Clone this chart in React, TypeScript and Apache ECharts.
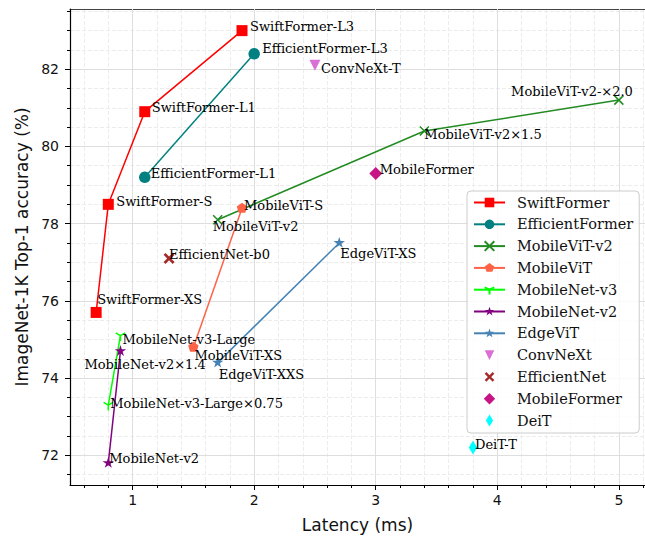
import React, { useEffect, useRef } from "react";
import * as echarts from "echarts";

// ---------- data ----------
const swiftNames = ["SwiftFormer-XS", "SwiftFormer-S", "SwiftFormer-L1", "SwiftFormer-L3"];
const swiftLatency = [0.7, 0.8, 1.1, 1.9];
const swiftAcc = [75.7, 78.5, 80.9, 83.0];

const effFormerNames = ["EfficientFormer-L1", "EfficientFormer-L3"];
const effFormerLatency = [1.1, 2.0];
const effFormerAcc = [79.2, 82.4];

const mvitV2Names = ["MobileViT-v2", "MobileViT-v2×1.5", "MobileViT-v2-×2.0"];
const mvitV2Latency = [1.7, 3.4, 5.0];
const mvitV2Acc = [78.1, 80.4, 81.2];

const mvitNames = ["MobileViT-XS", "MobileViT-S"];
const mvitLatency = [1.5, 1.9];
const mvitAcc = [74.8, 78.4];

const mnv3Names = ["MobileNet-v3-Large×0.75", "MobileNet-v3-Large"];
const mnv3Latency = [0.8, 0.9];
const mnv3Acc = [73.3, 75.1];

const mnv2Names = ["MobileNet-v2", "MobileNet-v2×1.4"];
const mnv2Latency = [0.8, 0.9];
const mnv2Acc = [71.8, 74.7];

const edgeNames = ["EdgeViT-XXS", "EdgeViT-XS"];
const edgeLatency = [1.7, 2.7];
const edgeAcc = [74.4, 77.5];

const convNames = ["ConvNeXt-T"];
const convLatency = [2.5];
const convAcc = [82.1];

const effNetNames = ["EfficientNet-b0"];
const effNetLatency = [1.3];
const effNetAcc = [77.1];

const mformerNames = ["MobileFormer"];
const mformerLatency = [3.0];
const mformerAcc = [79.3];

const deitNames = ["DeiT-T"];
const deitLatency = [3.8];
const deitAcc = [72.2];

const xMajorTicks = [1, 2, 3, 4, 5];
const xMinorTicks = [0.6, 0.8, 1.2, 1.4, 1.6, 1.8, 2.2, 2.4, 2.6, 2.8, 3.2, 3.4, 3.6, 3.8, 4.2, 4.4, 4.6, 4.8, 5.2];
const yMajorTicks = [72, 74, 76, 78, 80, 82];
const yMinorTicks = [71.5, 72.5, 73, 73.5, 74.5, 75, 75.5, 76.5, 77, 77.5, 78.5, 79, 79.5, 80.5, 81, 81.5, 82.5, 83, 83.5];

const X_MIN = 0.485;
const X_MAX = 5.215;
const Y_MIN = 71.23;
const Y_MAX = 83.56;

// ---------- label placement (styles) ----------
const labelPlacement: Record<string, [number, number, string?]> = {
  "SwiftFormer-XS": [1, -13],
  "SwiftFormer-S": [8, -3],
  "SwiftFormer-L1": [7, -4],
  "SwiftFormer-L3": [8, -4],
  "EfficientFormer-L1": [6, -4],
  "EfficientFormer-L3": [8, -5],
  "MobileViT-v2": [-5, 7],
  "MobileViT-v2×1.5": [0, 4],
  "MobileViT-v2-×2.0": [14, -9, "right"],
  "MobileViT-XS": [1, 8],
  "MobileViT-S": [2, -3],
  "MobileNet-v3-Large×0.75": [2, -2],
  "MobileNet-v3-Large": [2, 4],
  "MobileNet-v2": [1, -4],
  "MobileNet-v2×1.4": [-36, 13],
  "EdgeViT-XXS": [1, 12],
  "EdgeViT-XS": [1, 11],
  "ConvNeXt-T": [6, 3],
  "EfficientNet-b0": [0, -4],
  "MobileFormer": [4, -4],
  "DeiT-T": [2, -3],
};

// ---------- marker shapes ----------
const P = {
  x: "M-1,-1M1,1M-1,-1L1,1M1,-1L-1,1",
  pentagon: "M0,1M0,-1L0.951,-0.309L0.588,0.809L-0.588,0.809L-0.951,-0.309Z",
  star:
    "M0,1M0,-1L0.2245,-0.309L0.951,-0.309L0.363,0.118L0.588,0.809L0,0.382L-0.588,0.809L-0.363,0.118L-0.951,-0.309L-0.2245,-0.309Z",
  triDown: "M0,-1M0,0L0,1M0,0L-0.866,-0.5M0,0L0.866,-0.5",
  triangleDown: "M-1,-1L1,-1L0,1Z",
  xFilled:
    "M0,-0.35L0.65,-1L1,-0.65L0.35,0L1,0.65L0.65,1L0,0.35L-0.65,1L-1,0.65L-0.35,0L-1,-0.65L-0.65,-1Z",
  diamond: "M0,-1L1,0L0,1L-1,0Z",
  thinDiamond: "M0,-1L0.6,0L0,1L-0.6,0Z",
};
const sym = (p: string) => "path://" + p;
const padSym = (p: string, s: number) => `path://M${-s},${-s}M${s},${s}` + p;

const SERIF = "DejaVu Serif";
const SANS = "DejaVu Sans";

function pts(names: string[], xs: number[], ys: number[]) {
  return names.map((n, i) => {
    const pl = labelPlacement[n] || [6, 0];
    return {
      name: n,
      value: [xs[i], ys[i]],
      label: {
        show: true,
        formatter: n,
        position: "inside",
        align: pl[2] || "left",
        verticalAlign: "middle",
        offset: [pl[0], pl[1]],
        fontFamily: SERIF,
        fontSize: 13,
        color: "#000",
      },
    };
  });
}

function lineSeries(name: string, color: string, symbol: string, size: number | number[], data: any[], stroked = false) {
  return {
    type: "line",
    name,
    data,
    color,
    symbol,
    symbolSize: size,
    symbolKeepAspect: true,
    showSymbol: true,
    showAllSymbol: true,
    silent: true,
    lineStyle: { color, width: 1.5 },
    itemStyle: stroked
      ? { color, borderColor: color, borderWidth: 1.5, opacity: 1 }
      : { color, borderWidth: 0, opacity: 1 },
    z: 3,
  };
}

function scatterSeries(name: string, color: string, symbol: string, size: number | number[], data: any[]) {
  return {
    type: "scatter",
    name,
    data,
    color,
    symbol,
    symbolSize: size,
    symbolKeepAspect: true,
    silent: true,
    itemStyle: { color, opacity: 1 },
    z: 3,
  };
}

export default function App() {
  const ref = useRef<HTMLDivElement>(null);
  useEffect(() => {
    if (!ref.current) return;
    const chart = echarts.init(ref.current, null, { renderer: "svg" });
    const gridLine = { show: true, lineStyle: { color: "#dedede", width: 1 } };
    const minorLine = { show: true, lineStyle: { color: "#ececec", width: 1, type: [4, 2] } };
    const option: any = {
      animation: false,
      backgroundColor: "#ffffff",
      grid: { left: 70, top: 9, width: 577, height: 481, containLabel: false },
      xAxis: [
        {
          type: "value",
          min: X_MIN,
          max: X_MAX,
          position: "bottom",
          axisLine: { show: true, onZero: false, lineStyle: { color: "#000", width: 1.2 } },
          axisTick: { show: true, customValues: xMajorTicks, length: 5, lineStyle: { color: "#000" } },
          axisLabel: {
            show: true,
            customValues: xMajorTicks,
            margin: 8,
            fontFamily: SANS,
            fontSize: 14,
            color: "#111",
          },
          splitLine: gridLine,
          name: "Latency (ms)",
          nameLocation: "middle",
          nameGap: 31,
          nameTextStyle: { fontFamily: SANS, fontSize: 17, color: "#111" },
          z: 1,
        },
        {
          type: "value",
          min: X_MIN,
          max: X_MAX,
          position: "bottom",
          axisLine: { show: false },
          axisTick: { show: true, customValues: xMinorTicks, length: 3, lineStyle: { color: "#000" } },
          axisLabel: { show: false, customValues: xMinorTicks },
          splitLine: minorLine,
          z: 0,
        },
        {
          type: "value",
          min: X_MIN,
          max: X_MAX,
          position: "top",
          axisLine: { show: true, onZero: false, lineStyle: { color: "#444", width: 1 } },
          axisTick: { show: false },
          axisLabel: { show: false },
          splitLine: { show: false },
        },
      ],
      yAxis: [
        {
          type: "value",
          min: Y_MIN,
          max: Y_MAX,
          position: "left",
          axisLine: { show: true, onZero: false, lineStyle: { color: "#000", width: 1.2 } },
          axisTick: { show: true, customValues: yMajorTicks, length: 5, lineStyle: { color: "#000" } },
          axisLabel: {
            show: true,
            customValues: yMajorTicks,
            margin: 11,
            fontFamily: SANS,
            fontSize: 14,
            color: "#111",
          },
          splitLine: gridLine,
          name: "ImageNet-1K Top-1 accuracy (%)",
          nameLocation: "middle",
          nameGap: 33,
          nameTextStyle: { fontFamily: SANS, fontSize: 17, color: "#111" },
          z: 1,
        },
        {
          type: "value",
          min: Y_MIN,
          max: Y_MAX,
          position: "left",
          axisLine: { show: false },
          axisTick: { show: true, customValues: yMinorTicks, length: 3, lineStyle: { color: "#000" } },
          axisLabel: { show: false, customValues: yMinorTicks },
          splitLine: minorLine,
          z: 0,
        },
      ],
      legend: {
        orient: "vertical",
        left: 467,
        top: 191,
        padding: [3, 6, 4, 6],
        itemWidth: 31,
        itemHeight: 12,
        itemGap: 4.8,
        backgroundColor: "rgba(255,255,255,0.85)",
        borderColor: "#cccccc",
        borderWidth: 1,
        borderRadius: 4,
        lineStyle: { width: 2 },
        textStyle: { fontFamily: SERIF, fontSize: 14.5, color: "#111", lineHeight: 17, padding: [0, 0, 0, 7] },
        data: [
          { name: "SwiftFormer" },
          { name: "EfficientFormer" },
          { name: "MobileViT-v2" },
          { name: "MobileViT" },
          { name: "MobileNet-v3" },
          { name: "MobileNet-v2" },
          { name: "EdgeViT" },
          { name: "ConvNeXt", icon: padSym(P.triangleDown, 1.25) },
          { name: "EfficientNet", icon: padSym(P.xFilled, 1.25) },
          { name: "MobileFormer", icon: padSym(P.diamond, 1.05) },
          { name: "DeiT", icon: padSym(P.thinDiamond, 1.0) },
        ],
      },
      series: [
        lineSeries("SwiftFormer", "#ff0000", "rect", 11, pts(swiftNames, swiftLatency, swiftAcc)),
        lineSeries("EfficientFormer", "#008080", "circle", 11.5, pts(effFormerNames, effFormerLatency, effFormerAcc)),
        lineSeries("MobileViT-v2", "#228b22", sym(P.x), 9, pts(mvitV2Names, mvitV2Latency, mvitV2Acc), true),
        lineSeries("MobileViT", "#ff6347", sym(P.pentagon), 11, pts(mvitNames, mvitLatency, mvitAcc)),
        lineSeries("MobileNet-v3", "#00ff00", sym(P.triDown), 11, pts(mnv3Names, mnv3Latency, mnv3Acc), true),
        lineSeries("MobileNet-v2", "#800080", sym(P.star), 12, pts(mnv2Names, mnv2Latency, mnv2Acc)),
        lineSeries("EdgeViT", "#4682b4", sym(P.star), 12, pts(edgeNames, edgeLatency, edgeAcc)),
        scatterSeries("ConvNeXt", "#da70d6", sym(P.triangleDown), 11, pts(convNames, convLatency, convAcc)),
        scatterSeries("EfficientNet", "#a52a2a", sym(P.xFilled), 11, pts(effNetNames, effNetLatency, effNetAcc)),
        scatterSeries("MobileFormer", "#c71585", sym(P.diamond), 13, pts(mformerNames, mformerLatency, mformerAcc)),
        scatterSeries("DeiT", "#00ffff", sym(P.thinDiamond), 14, pts(deitNames, deitLatency, deitAcc)),
      ],
    };
    chart.setOption(option);
    return () => chart.dispose();
  }, []);
  return (
    <div
      ref={ref}
      style={{ position: "fixed", left: 0, top: 0, width: 645, height: 538, background: "#fff" }}
    />
  );
}
